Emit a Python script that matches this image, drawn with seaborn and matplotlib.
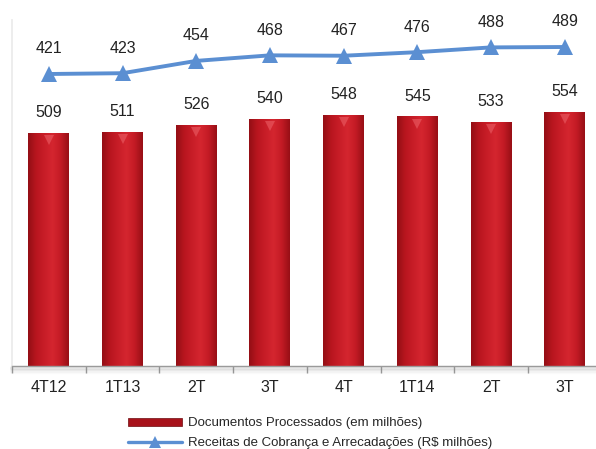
import numpy as np
import pandas as pd
import matplotlib
matplotlib.use("Agg")
import matplotlib.pyplot as plt
from matplotlib.colors import LinearSegmentedColormap
from matplotlib.patches import Patch
from matplotlib.lines import Line2D
import seaborn as sns

# Quarterly data
quarters = ["4T12", "1T13", "2T13", "3T13", "4T13", "1T14", "2T14", "3T14"]
tick_labels = ["4T12", "1T13", "2T", "3T", "4T", "1T14", "2T", "3T"]
documentos = [509, 511, 526, 540, 548, 545, 533, 554]
receitas = [421, 423, 454, 468, 467, 476, 488, 489]

df = pd.DataFrame({"pos": np.arange(len(quarters)), "quarter": quarters,
                   "documentos": documentos, "receitas": receitas})

sns.set_theme(style="white")
plt.rcParams["font.family"] = ["Liberation Sans", "DejaVu Sans"]

W, H = 596, 449
fig = plt.figure(figsize=(W / 100, H / 100), dpi=100)
ax_left, ax_bottom_px, ax_top_px = 12, 366, 20
step = 73.7
ax = fig.add_axes([ax_left / W, (H - ax_bottom_px) / H, 8 * step / W,
                   (ax_bottom_px - ax_top_px) / H])

bar_red = "#c41a24"
line_blue = "#5b8fd2"

sns.barplot(data=df, x="pos", y="documentos", color=bar_red, width=0.555,
            saturation=1, ax=ax, zorder=2)
ax.set_xlim(-0.5, 7.5)
ax.set_ylim(0, 755)

# cylinder-like shading on each bar
cyl = LinearSegmentedColormap.from_list(
    "cyl", ["#940e15", "#b9161f", "#c81d28", "#d4262f", "#c41b25", "#980f16"])
grad = np.linspace(0, 1, 64).reshape(1, -1)
for bar in ax.patches:
    x0, y0 = bar.get_x(), bar.get_y()
    w, h = bar.get_width(), bar.get_height()
    im = ax.imshow(grad, cmap=cyl, aspect="auto", extent=(x0, x0 + w, y0, y0 + h),
                   zorder=2.5, interpolation="bicubic")
    im.set_clip_path(bar)
    # soft highlight near the top of the bar
    ax.plot(x0 + w / 2, y0 + h - 16, marker="v", markersize=7, color="#f06a70",
            alpha=0.5, markeredgewidth=0, zorder=2.6)
ax.set_xlim(-0.5, 7.5)
ax.set_ylim(0, 755)

for i, v in enumerate(documentos):
    ax.annotate(f"{v}", (i, v), xytext=(0, 14.5), textcoords="offset points",
                ha="center", va="center", fontsize=11.5, color="#222222")

# axis styling
for s in ["top", "right"]:
    ax.spines[s].set_visible(False)
ax.spines["left"].set_color("#ebebeb")
ax.spines["bottom"].set_color("#9a9a9a")
ax.spines["bottom"].set_linewidth(1.0)
ax.set_yticks([])
ax.set_xticks(range(len(quarters)))
ax.set_xticklabels(tick_labels, fontsize=11.5, color="#222222")
ax.set_xticks(np.arange(-0.5, 8, 1), minor=True)
ax.tick_params(axis="x", which="major", length=0, pad=10)
ax.tick_params(axis="x", which="minor", length=5, color="#9a9a9a", width=1,
               direction="out", bottom=True)
ax.set_xlabel("")
ax.set_ylabel("")

# light shadow under the baseline
for k, a in enumerate([0.12, 0.08, 0.05, 0.03]):
    ax.axhline(-4 - k * 3, color="#808080", alpha=a, linewidth=3, clip_on=False, zorder=1)

# revenue line on a secondary scale
ax2 = ax.twinx()
sns.lineplot(data=df, x="pos", y="receitas", color=line_blue, linewidth=2.8,
             marker="^", markersize=11, markeredgewidth=0, ax=ax2)
ax2.set_ylim(-314.5, 557)
ax2.set_xlim(-0.5, 7.5)
ax2.set_yticks([])
ax2.set_ylabel("")
ax2.set_xlabel("")
for s in ax2.spines.values():
    s.set_visible(False)
for i, v in enumerate(receitas):
    ax2.annotate(f"{v}", (i, v), xytext=(0, 18), textcoords="offset points",
                 ha="center", va="center", fontsize=11.5, color="#222222")

handles = [Patch(facecolor="#a8121b", edgecolor="#6e0a0f", linewidth=0.5),
           Line2D([0], [0], color=line_blue, linewidth=2.4, marker="^",
                  markersize=8, markeredgewidth=0)]
labels = ["Documentos Processados (em milhões)",
          "Receitas de Cobrança e Arrecadações (R$ milhões)"]
fig.legend(handles, labels, loc="upper left", bbox_to_anchor=(123 / W, 1 - 412 / H),
           frameon=False, fontsize=9.5, handlelength=4.1, handleheight=0.55,
           handletextpad=0.4, labelspacing=0.6, borderaxespad=0)

fig.savefig("out.png", dpi=100)
